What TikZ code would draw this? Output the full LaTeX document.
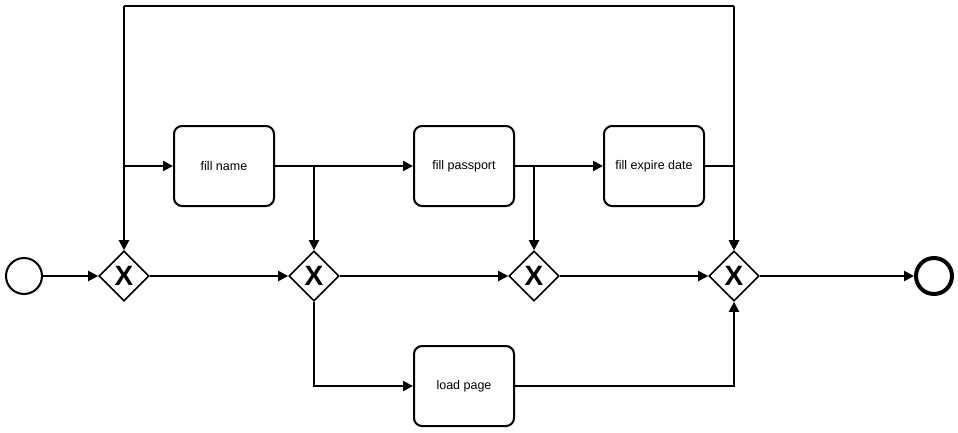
\documentclass[tikz,border=0pt]{standalone}
\usepackage{fontspec}
\setmainfont{Liberation Sans}
\usetikzlibrary{shapes.geometric, arrows.meta}

\begin{document}
\begin{tikzpicture}[x=1pt, y=-1pt,
    flow/.style={line width=2pt, -{Triangle[length=10pt, width=10pt]}},
    link/.style={line width=2pt},
    task/.style={draw, line width=2pt, rounded corners=8pt,
      minimum width=100pt, minimum height=80pt,
      font=\fontsize{12.5}{14}\selectfont},
    gateway/.style={draw, diamond, aspect=1, line width=1.6pt,
      minimum width=50pt, minimum height=50pt, inner sep=0pt,
      font=\fontsize{28}{28}\selectfont\bfseries},
    event/.style={draw, circle, line width=2pt, minimum size=36pt, inner sep=0pt}]

  \useasboundingbox (0, 0) rectangle (958, 432);

  % ── Events and gateways ───────────────────────────────────────────────────
  \node[event] (start) at (24, 276) {};
  \node[gateway] (gw1) at (124, 276) {X};
  \node[gateway] (gw2) at (314, 276) {X};
  \node[gateway] (gw3) at (534, 276) {X};
  \node[gateway] (gw4) at (734, 276) {X};
  \node[event, line width=4pt] (stop) at (934, 276) {};

  % ── Tasks ─────────────────────────────────────────────────────────────────
  \node[task] (fillname) at (224, 166) {fill name};
  \node[task] (fillpass) at (464, 166) {fill passport};
  \node[task] (fillexp)  at (654, 166) {fill expire date};
  \node[task] (loadpage) at (464, 386) {load page};

  % ── Main line ─────────────────────────────────────────────────────────────
  \draw[flow] (start) -- (gw1);
  \draw[flow] (gw1) -- (gw2);
  \draw[flow] (gw2) -- (gw3);
  \draw[flow] (gw3) -- (gw4);
  \draw[flow] (gw4) -- (stop);

  % ── Loop over the top ─────────────────────────────────────────────────────
  \coordinate (topL) at (124, 6);
  \coordinate (topR) at (734, 6);
  \draw[link] (topR) -- (topL);
  \draw[flow] (topL) -- (gw1);
  \draw[flow] (topR) -- (gw4);
  \draw[flow] (gw1 |- fillname) -- (fillname);

  % ── Tasks to gateways ─────────────────────────────────────────────────────
  \draw[flow] (fillname) -- (fillpass);
  \draw[flow] (gw2 |- fillname) -- (gw2);
  \draw[flow] (fillpass) -- (fillexp);
  \draw[flow] (gw3 |- fillpass) -- (gw3);
  \draw[flow] (fillexp) -| (gw4);

  % ── Lower branch ──────────────────────────────────────────────────────────
  \draw[flow] (gw2) |- (loadpage);
  \draw[flow] (loadpage) -| (gw4);

\end{tikzpicture}
\end{document}
